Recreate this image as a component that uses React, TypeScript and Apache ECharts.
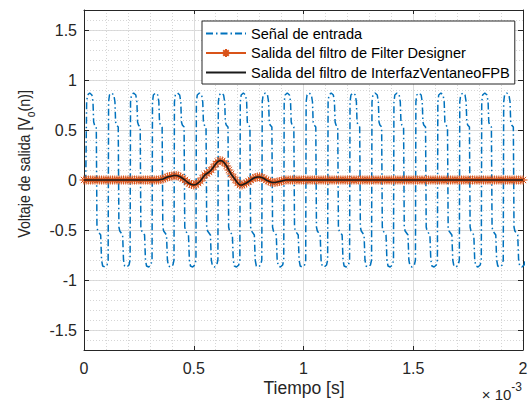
import React, { useEffect, useRef } from "react";
import * as echarts from "echarts";

// ---- data (time in ms, axis shown with ×10^-3 s) ----
const xTickLabels = [0, 0.5, 1, 1.5, 2];
const yTickLabels = [-1.5, -1, -0.5, 0, 0.5, 1, 1.5];

// input signal: one period (offset from rising edge, ms)
const inputPeriodMs = 0.1;
const inputPeriods = 20;
const inputFirstRiseMs = 0.012;
const inputPatternOffsets = [0.0, 0.004, 0.014, 0.024, 0.029, 0.032, 0.036, 0.044, 0.047, 0.051, 0.064, 0.068, 0.073, 0.083, 0.093, 0.098];
const inputPatternValues = [0.78, 0.85, 0.87, 0.85, 0.78, 0.58, 0.55, 0.53, -0.47, -0.51, -0.55, -0.8, -0.86, -0.87, -0.85, -0.8];
const inputStart = [[0, 0], [0.008, 0]];

// filter outputs, one value every 0.01 ms from 0 to 2 ms
const filterStepMs = 0.01;
const filterOutput = [
  0, 0, 0, 0, 0, 0, 0, 0, 0, 0,
  0, 0, 0, 0, 0, 0, 0, 0, 0, 0,
  0, 0, 0, 0, 0, 0, 0, 0, 0, 0,
  0, 0, 0, 0, 0, 0.005, 0.01, 0.02, 0.03, 0.035,
  0.04, 0.045, 0.045, 0.04, 0.03, 0.015, 0, -0.02, -0.035, -0.045,
  -0.05, -0.045, -0.03, -0.01, 0.02, 0.05, 0.065, 0.08, 0.1, 0.13,
  0.16, 0.185, 0.195, 0.19, 0.17, 0.14, 0.1, 0.06, 0.03, 0,
  -0.03, -0.05, -0.05, -0.04, -0.03, -0.015, 0, 0.015, 0.025, 0.03,
  0.03, 0.025, 0.015, 0, -0.01, -0.02, -0.025, -0.025, -0.02, -0.015,
  -0.01, -0.005, 0, 0, 0, 0, 0, 0, 0, 0,
  0, 0, 0, 0, 0, 0, 0, 0, 0, 0,
  0, 0, 0, 0, 0, 0, 0, 0, 0, 0,
  0, 0, 0, 0, 0, 0, 0, 0, 0, 0,
  0, 0, 0, 0, 0, 0, 0, 0, 0, 0,
  0, 0, 0, 0, 0, 0, 0, 0, 0, 0,
  0, 0, 0, 0, 0, 0, 0, 0, 0, 0,
  0, 0, 0, 0, 0, 0, 0, 0, 0, 0,
  0, 0, 0, 0, 0, 0, 0, 0, 0, 0,
  0, 0, 0, 0, 0, 0, 0, 0, 0, 0,
  0, 0, 0, 0, 0, 0, 0, 0, 0, 0,
  0,
];

const seriesNames = [
  "Señal de entrada",
  "Salida del filtro de Filter Designer",
  "Salida del filtro de InterfazVentaneoFPB",
];

const FONT = "'Liberation Sans', Arial, Helvetica, sans-serif";
const AX = "#262626";

function buildInput() {
  const pts: number[][] = inputStart.map((p) => [p[0], p[1]]);
  for (let k = 0; k < inputPeriods; k++) {
    for (let i = 0; i < inputPatternOffsets.length; i++) {
      pts.push([inputFirstRiseMs + k * inputPeriodMs + inputPatternOffsets[i], inputPatternValues[i]]);
    }
  }
  return pts;
}

export default function App() {
  const ref = useRef<HTMLDivElement>(null);
  useEffect(() => {
    if (!ref.current) return;
    const chart = echarts.init(ref.current, null, { renderer: "svg" });
    const filterData = filterOutput.map((v, i) => [i * filterStepMs, v]);
    const asterisk = "path://M5,0L5,10M0,5L10,5M1.5,1.5L8.5,8.5M1.5,8.5L8.5,1.5";
    chart.setOption({
      animation: false,
      backgroundColor: "#fff",
      textStyle: { fontFamily: FONT },
      grid: { left: 84, right: 9, top: 10, bottom: 52, show: false },
      legend: {
        orient: "vertical",
        left: 202,
        top: 21,
        itemWidth: 40,
        itemHeight: 10,
        itemGap: 4.5,
        padding: [5, 5, 4, 3],
        borderColor: AX,
        borderWidth: 1,
        backgroundColor: "#fff",
        textStyle: { fontSize: 14.6, color: "#000", fontFamily: FONT },
        data: seriesNames,
      },
      xAxis: [
        {
          type: "value",
          min: 0,
          max: 2,
          interval: 0.5,
          position: "bottom",
          axisLine: { show: true, onZero: false, lineStyle: { color: AX, width: 1 } },
          axisTick: { show: true, inside: true, length: 4, lineStyle: { color: AX } },
          axisLabel: {
            show: true,
            customValues: xTickLabels,
            margin: 10,
            fontSize: 16,
            color: AX,
            fontFamily: FONT,
          },
          splitLine: { show: true, lineStyle: { color: "#dcdcdc", width: 1, type: "solid" } },
          minorTick: { show: false, splitNumber: 5 },
          minorSplitLine: { show: true, lineStyle: { color: "#d6d6d6", width: 1, type: [1, 2] } },
        },
        {
          type: "value",
          min: 0,
          max: 2,
          interval: 0.5,
          position: "top",
          axisLine: { show: true, onZero: false, lineStyle: { color: AX, width: 1 } },
          axisTick: { show: true, inside: true, length: 4, lineStyle: { color: AX } },
          axisLabel: { show: false },
          splitLine: { show: false },
        },
      ],
      yAxis: [
        {
          type: "value",
          min: -1.7,
          max: 1.7,
          position: "left",
          axisLine: { show: true, onZero: false, lineStyle: { color: AX, width: 1 } },
          axisTick: { show: true, inside: true, length: 5, customValues: yTickLabels, lineStyle: { color: AX } },
          axisLabel: {
            show: true,
            customValues: yTickLabels,
            margin: 7,
            fontSize: 16,
            color: AX,
            fontFamily: FONT,
          },
          splitLine: { show: true, lineStyle: { color: "#dcdcdc", width: 1, type: "solid" } },
        },
        {
          type: "value",
          min: -1.7,
          max: 1.7,
          interval: 0.1,
          position: "left",
          axisLine: { show: false },
          axisTick: { show: false },
          axisLabel: { show: false },
          splitLine: { show: true, lineStyle: { color: "#d6d6d6", width: 1, type: [1, 2] } },
        },
        {
          type: "value",
          min: -1.7,
          max: 1.7,
          position: "right",
          axisLine: { show: true, onZero: false, lineStyle: { color: AX, width: 1 } },
          axisTick: { show: true, inside: true, length: 5, customValues: yTickLabels, lineStyle: { color: AX } },
          axisLabel: { show: false, customValues: yTickLabels },
          splitLine: { show: false },
        },
      ],
      series: [
        {
          name: seriesNames[0],
          type: "line",
          xAxisIndex: 0,
          yAxisIndex: 0,
          data: buildInput(),
          symbol: "none",
          lineStyle: { color: "#0072BD", width: 1.5, type: [7, 3, 1.5, 3] },
          itemStyle: { color: "#0072BD", opacity: 0 },
          z: 2,
        },
        {
          name: seriesNames[1],
          type: "line",
          xAxisIndex: 0,
          yAxisIndex: 0,
          data: filterData,
          symbol: asterisk,
          symbolSize: 9,
          showSymbol: true,
          lineStyle: { color: "#D95319", width: 1.2 },
          itemStyle: { color: "#D95319", borderColor: "#D95319", borderWidth: 1 },
          z: 3,
        },
        {
          name: seriesNames[2],
          type: "line",
          xAxisIndex: 0,
          yAxisIndex: 0,
          data: filterData,
          symbol: "none",
          lineStyle: { color: "#1a1a1a", width: 1.6 },
          itemStyle: { color: "#1a1a1a", opacity: 0 },
          z: 4,
        },
      ],
      graphic: [
        {
          type: "text",
          x: 24,
          y: 164,
          rotation: Math.PI / 2,
          scaleX: 0.86,
          style: {
            text: "{n|Voltaje de salida [V}{s|o}{n|(n)]}",
            align: "center",
            verticalAlign: "middle",
            fill: AX,
            rich: {
              n: { fontSize: 16.5, fontFamily: FONT, fill: AX, verticalAlign: "bottom" },
              s: { fontSize: 12, fontFamily: FONT, fill: AX, verticalAlign: "bottom", padding: [0, 0, -4, 0] },
            },
          },
        },
        {
          type: "text",
          x: 304,
          y: 388,
          style: {
            text: "Tiempo [s]",
            align: "center",
            verticalAlign: "middle",
            fontSize: 17.5,
            fontFamily: FONT,
            fill: AX,
          },
        },
        {
          type: "text",
          x: 522,
          y: 391,
          style: {
            text: "{n|× 10}{s|-3}",
            align: "right",
            verticalAlign: "middle",
            fill: AX,
            rich: {
              n: { fontSize: 15, fontFamily: FONT, fill: AX, verticalAlign: "bottom" },
              s: { fontSize: 12, fontFamily: FONT, fill: AX, verticalAlign: "top", padding: [0, 0, 9, 0] },
            },
          },
        },
      ],
    });
    return () => chart.dispose();
  }, []);
  return (
    <div
      ref={ref}
      style={{ position: "fixed", left: 0, top: 0, width: 532, height: 402, background: "#fff" }}
    />
  );
}
